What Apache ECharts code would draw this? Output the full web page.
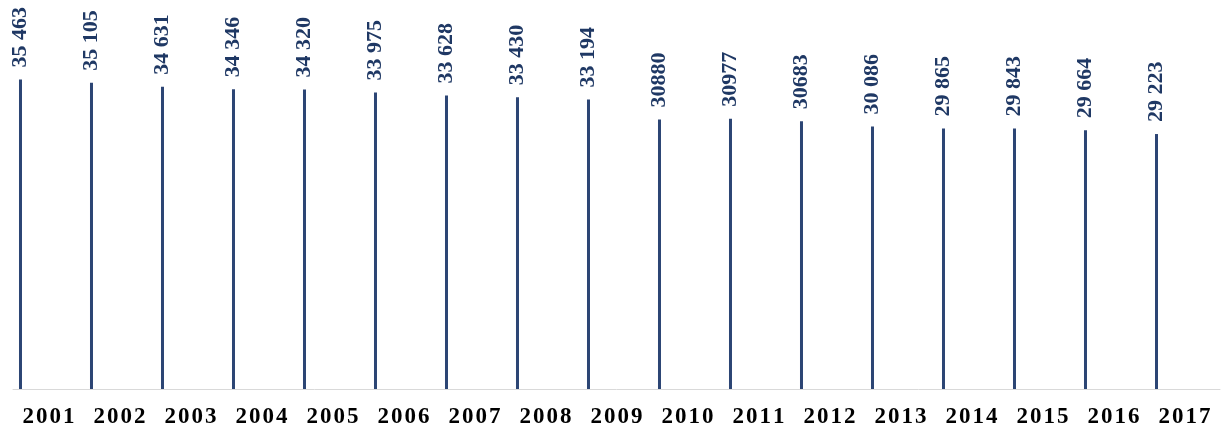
<!DOCTYPE html>
<html>
<head>
    <meta charset="utf-8">
    <title>ECharts</title>
    <script src="https://cdn.jsdelivr.net/npm/echarts@6/dist/echarts.min.js"></script>
    <style>
        html, body { margin: 0; padding: 0; background: #fff; }
    </style>
</head>
<body>
<div id="main" style="width:1221px;height:429px;"></div>
<script type="text/javascript">
    // years on the x axis
    var years = ['2001','2002','2003','2004','2005','2006','2007','2008','2009',
                 '2010','2011','2012','2013','2014','2015','2016','2017'];
    // values
    var values = [35463, 35105, 34631, 34346, 34320, 33975, 33628, 33430, 33194,
                  30880, 30977, 30683, 30086, 29865, 29843, 29664, 29223];
    // labels as printed on the chart (spacing kept as in the original)
    var valueLabels = ['35 463','35 105','34 631','34 346','34 320','33 975','33 628','33 430','33 194',
                       '30880','30977','30683','30 086','29 865','29 843','29 664','29 223'];

    var myChart = echarts.init(document.getElementById('main'));

    var option = {
        animation: false,
        grid: {
            left: 13,
            right: 1,
            top: 40,
            bottom: 39
        },
        xAxis: {
            type: 'category',
            data: years,
            axisLine: { lineStyle: { color: '#d9d9d9', width: 1 } },
            axisTick: { show: false },
            axisLabel: {
                interval: 0,
                hideOverlap: false,
                margin: 17,
                color: '#000',
                fontFamily: 'Liberation Serif',
                fontWeight: 'bold',
                fontSize: 23,
                // slight letter spacing with hair spaces
                formatter: function (v) {
                    return v.split('').join('\u200a');
                }
            }
        },
        yAxis: {
            type: 'value',
            min: 0,
            max: 40000,
            show: false,
            splitLine: { show: false }
        },
        series: [{
            type: 'bar',
            data: values,
            barWidth: 3,
            barGap: '1767%',
            itemStyle: { color: '#2c4574' },
            label: {
                show: true,
                position: 'top',
                rotate: 90,
                align: 'left',
                verticalAlign: 'middle',
                distance: 12,
                color: '#1f3864',
                fontFamily: 'Liberation Serif',
                fontWeight: 'bold',
                fontSize: 22,
                formatter: function (p) {
                    return valueLabels[p.dataIndex];
                }
            }
        }, {
            // empty series, only to push the bars to the left of each band
            type: 'bar',
            data: [],
            barWidth: 3
        }]
    };
    myChart.setOption(option);
</script>
</body>
</html>
